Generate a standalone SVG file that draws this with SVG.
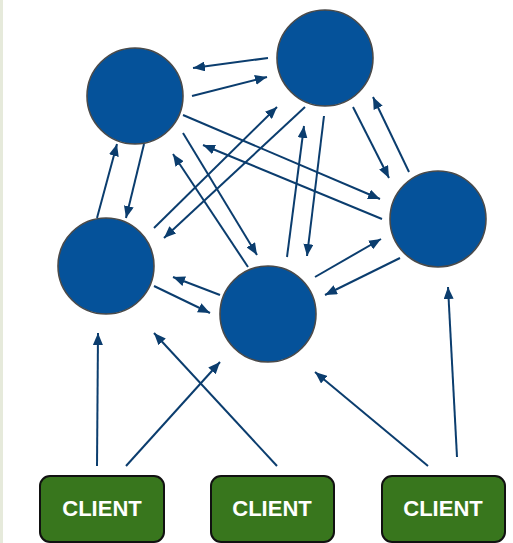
<svg xmlns="http://www.w3.org/2000/svg" width="513" height="543" viewBox="0 0 513 543">
<style>
.node{fill:#05529a;stroke:#4a4a4a;stroke-width:1.6}
.client rect{fill:#38761d;stroke:#111;stroke-width:2}
.client text{fill:#fff;font-family:"Liberation Sans",Arial,sans-serif;font-weight:bold;font-size:22px;text-anchor:middle}
.conn line{stroke:#0b3d6e;stroke-width:2;marker-end:url(#ah)}
</style>
<defs>
<marker id="ah" markerUnits="userSpaceOnUse" markerWidth="12" markerHeight="10" refX="12" refY="5" orient="auto">
<path d="M0,0 L12,5 L0,10 z" fill="#0b3d6e"/>
</marker>
</defs>
<rect x="0" y="0" width="513" height="543" fill="#fff"/>
<rect x="0" y="0" width="3" height="543" fill="#e6eadb"/>
<g id="connectors" class="conn">
<line x1="268" y1="58" x2="193" y2="68"/>
<line x1="192" y1="96" x2="267" y2="77"/>
<line x1="183" y1="115" x2="380" y2="199"/>
<line x1="382" y1="219" x2="203" y2="145"/>
<line x1="97" y1="218" x2="117" y2="144"/>
<line x1="144" y1="144" x2="126" y2="218"/>
<line x1="183" y1="133" x2="257" y2="255"/>
<line x1="248" y1="267" x2="173" y2="154"/>
<line x1="154" y1="228" x2="277" y2="107"/>
<line x1="305" y1="107" x2="164" y2="238"/>
<line x1="287" y1="257" x2="304" y2="126"/>
<line x1="324" y1="116" x2="307" y2="256"/>
<line x1="353" y1="107" x2="389" y2="178"/>
<line x1="409" y1="172" x2="373" y2="97"/>
<line x1="220" y1="295" x2="173" y2="277"/>
<line x1="154" y1="286" x2="210" y2="313"/>
<line x1="315" y1="277" x2="381" y2="239"/>
<line x1="400" y1="258" x2="325" y2="295"/>
<line x1="97" y1="466" x2="98" y2="333"/>
<line x1="126" y1="466" x2="220" y2="362"/>
<line x1="277" y1="466" x2="154" y2="333"/>
<line x1="428" y1="466" x2="315" y2="372"/>
<line x1="457" y1="457" x2="448" y2="287"/>
</g>
<g id="node-a"><circle class="node" cx="135" cy="96" r="48"/></g>
<g id="node-b"><circle class="node" cx="325" cy="58" r="48"/></g>
<g id="node-c"><circle class="node" cx="438" cy="219" r="48"/></g>
<g id="node-d"><circle class="node" cx="106" cy="266" r="48"/></g>
<g id="node-e"><circle class="node" cx="268" cy="314" r="48"/></g>
<g id="client-1" class="client"><rect x="40" y="476" width="124" height="66" rx="10"/><text x="102" y="516">CLIENT</text></g>
<g id="client-2" class="client"><rect x="211" y="476" width="123" height="66" rx="10"/><text x="272" y="516">CLIENT</text></g>
<g id="client-3" class="client"><rect x="382" y="476" width="123" height="66" rx="10"/><text x="443" y="516">CLIENT</text></g>
</svg>
